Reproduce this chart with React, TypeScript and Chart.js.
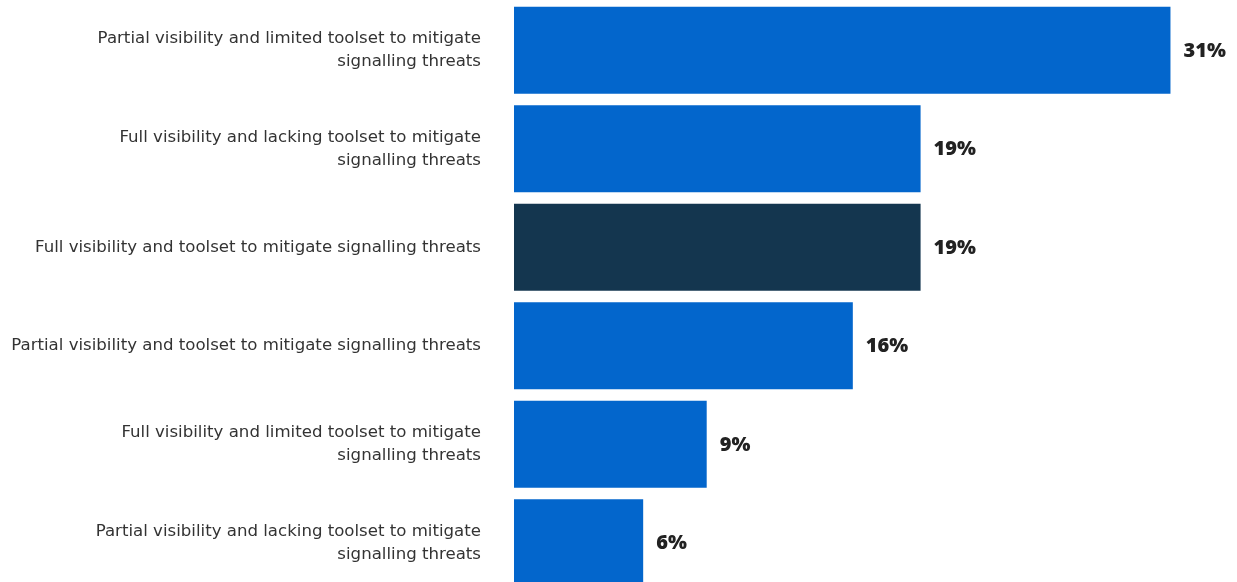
import React, { useEffect, useRef } from "react";
import { Chart, registerables } from "chart.js";

Chart.register(...registerables);

const categories: string[][] = [
  ["Partial visibility and limited toolset to mitigate", "signalling threats"],
  ["Full visibility and lacking toolset to mitigate", "signalling threats"],
  ["Full visibility and toolset to mitigate signalling threats"],
  ["Partial visibility and toolset to mitigate signalling threats"],
  ["Full visibility and limited toolset to mitigate", "signalling threats"],
  ["Partial visibility and lacking toolset to mitigate", "signalling threats"],
];
const values: number[] = [31, 19.2, 19.2, 16, 9.1, 6.1];
const valueLabels: string[] = ["31%", "19%", "19%", "16%", "9%", "6%"];
const barColors: string[] = ["#0366CC", "#0366CC", "#14364F", "#0366CC", "#0366CC", "#0366CC"];

const valueLabelPlugin = {
  id: "valueLabels",
  afterDatasetsDraw(chart: any) {
    const { ctx } = chart;
    const meta = chart.getDatasetMeta(0);
    ctx.save();
    ctx.font = "800 20px 'Open Sans', sans-serif";
    ctx.fillStyle = "#222222";
    ctx.textAlign = "left";
    ctx.textBaseline = "middle";
    meta.data.forEach((bar: any, i: number) => {
      ctx.fillText(valueLabels[i], bar.x + 13, bar.y + 1);
    });
    ctx.restore();
  },
};

export default function App() {
  const ref = useRef<HTMLCanvasElement | null>(null);
  useEffect(() => {
    if (!ref.current) return;
    const chart = new Chart(ref.current, {
      type: "bar",
      data: {
        labels: categories,
        datasets: [
          {
            data: values,
            backgroundColor: barColors,
            borderWidth: 0,
            barPercentage: 1,
            categoryPercentage: 0.884,
          },
        ],
      },
      options: {
        indexAxis: "y",
        responsive: false,
        animation: false,
        layout: { padding: { top: 1, bottom: 1, left: 0, right: 3 } },
        plugins: {
          legend: { display: false },
          tooltip: { enabled: false },
        },
        scales: {
          x: {
            display: false,
            min: 0,
            max: 34,
          },
          y: {
            grid: { display: false, drawTicks: false },
            border: { display: false },
            afterFit(scale: any) {
              scale.width = 514;
              scale.paddingTop = 0;
              scale.paddingBottom = 0;
            },
            ticks: {
              padding: 33,
              color: "#333333",
              font: { family: "'DejaVu Sans', sans-serif", size: 16.6, lineHeight: 1.38 },
            },
          },
        },
      },
      plugins: [valueLabelPlugin],
    });
    return () => chart.destroy();
  }, []);
  return (
    <div
      style={{
        position: "absolute",
        top: 0,
        left: 0,
        width: 1237,
        height: 582,
        overflow: "hidden",
        background: "#fff",
      }}
    >
      <canvas ref={ref} width={1237} height={593} style={{ display: "block" }} />
    </div>
  );
}
